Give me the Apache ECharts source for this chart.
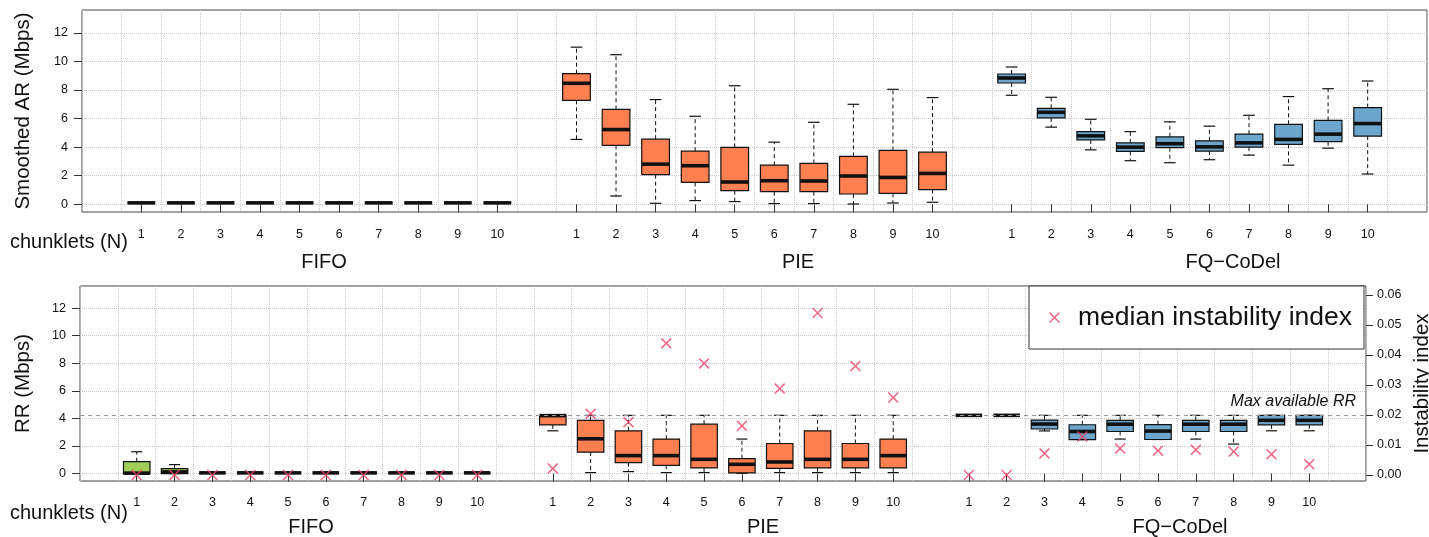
<!DOCTYPE html>
<html>
<head>
<meta charset="utf-8">
<script src="https://cdn.jsdelivr.net/npm/echarts@6.0.0/dist/echarts.min.js"></script>
<style>
  html, body { margin: 0; padding: 0; background: #fff; }
  #chart { width: 1429px; height: 537px; }
</style>
</head>
<body>
<div id="chart"></div>
<script>
const chunklets = ['1', '2', '3', '4', '5', '6', '7', '8', '9', '10']
const queues = ['FIFO', 'PIE', 'FQ\u2212CoDel']
const rateTicks = [0, 2, 4, 6, 8, 10, 12]
const instTicks = [0, 0.01, 0.02, 0.03, 0.04, 0.05, 0.06]
const maxRR = 4.22

// smoothed AR (Mbps), one [min, Q1, median, Q3, max] per chunklet count
const arFifo = [
  [0.1, 0.1, 0.1, 0.1, 0.1], [0.1, 0.1, 0.1, 0.1, 0.1], [0.1, 0.1, 0.1, 0.1, 0.1],
  [0.1, 0.1, 0.1, 0.1, 0.1], [0.1, 0.1, 0.1, 0.1, 0.1], [0.1, 0.1, 0.1, 0.1, 0.1],
  [0.1, 0.1, 0.1, 0.1, 0.1], [0.1, 0.1, 0.1, 0.1, 0.1], [0.1, 0.1, 0.1, 0.1, 0.1],
  [0.1, 0.1, 0.1, 0.1, 0.1]
]
const arPie = [
  [4.54, 7.28, 8.47, 9.14, 11.0],
  [0.58, 4.12, 5.23, 6.65, 10.47],
  [0.07, 2.07, 2.81, 4.56, 7.33],
  [0.26, 1.53, 2.70, 3.72, 6.16],
  [0.19, 0.95, 1.56, 3.98, 8.30],
  [0.05, 0.88, 1.65, 2.74, 4.35],
  [0.05, 0.88, 1.63, 2.86, 5.74],
  [0.02, 0.72, 1.98, 3.35, 7.00],
  [0.09, 0.77, 1.88, 3.77, 8.05],
  [0.14, 1.03, 2.16, 3.65, 7.47]
]
const arFq = [
  [7.63, 8.49, 8.84, 9.12, 9.61],
  [5.40, 6.05, 6.44, 6.72, 7.49],
  [3.81, 4.51, 4.79, 5.09, 5.95],
  [3.05, 3.70, 4.00, 4.30, 5.09],
  [2.91, 3.96, 4.24, 4.72, 5.77],
  [3.12, 3.72, 4.02, 4.44, 5.47],
  [3.44, 4.00, 4.30, 4.91, 6.23],
  [2.74, 4.19, 4.54, 5.60, 7.54],
  [3.93, 4.38, 4.91, 5.88, 8.09],
  [2.12, 4.77, 5.65, 6.77, 8.63]
]

// RR (Mbps)
const rrFifo = [
  [0, 0, 0.03, 0.86, 1.58],
  [0, 0, 0.12, 0.36, 0.65],
  [0.05, 0.05, 0.05, 0.05, 0.05], [0.05, 0.05, 0.05, 0.05, 0.05],
  [0.05, 0.05, 0.05, 0.05, 0.05], [0.05, 0.05, 0.05, 0.05, 0.05],
  [0.05, 0.05, 0.05, 0.05, 0.05], [0.05, 0.05, 0.05, 0.05, 0.05],
  [0.05, 0.05, 0.05, 0.05, 0.05], [0.05, 0.05, 0.05, 0.05, 0.05]
]
const rrPie = [
  [3.10, 3.53, 4.20, 4.22, 4.22],
  [0.07, 1.56, 2.52, 3.86, 4.22],
  [0.14, 0.79, 1.30, 3.10, 4.22],
  [0.07, 0.60, 1.30, 2.50, 4.22],
  [0.07, 0.41, 1.03, 3.58, 4.22],
  [0.02, 0.05, 0.67, 1.08, 2.50],
  [0.07, 0.38, 0.84, 2.18, 4.22],
  [0.07, 0.41, 1.03, 3.10, 4.22],
  [0.07, 0.41, 1.03, 2.18, 4.22],
  [0.07, 0.41, 1.30, 2.50, 4.22]
]
const rrFq = [
  [4.22, 4.22, 4.22, 4.22, 4.22],
  [4.22, 4.22, 4.22, 4.22, 4.22],
  [3.09, 3.23, 3.59, 3.88, 4.22],
  [2.46, 2.46, 3.05, 3.54, 4.22],
  [2.50, 3.05, 3.58, 3.86, 4.22],
  [2.47, 2.47, 3.08, 3.55, 4.22],
  [2.50, 3.05, 3.58, 3.86, 4.22],
  [2.14, 3.05, 3.58, 3.86, 4.22],
  [3.10, 3.53, 3.86, 4.22, 4.22],
  [3.10, 3.53, 3.86, 4.22, 4.22]
]

// median instability index
const instFifo = [0, 0, 0, 0, 0, 0, 0, 0, 0, 0]
const instPie = [0.0022, 0.0204, 0.0176, 0.0439, 0.0372, 0.0164, 0.0288, 0.0540, 0.0363, 0.0258]
const instFq = [0, 0, 0.0072, 0.0128, 0.0088, 0.0081, 0.0084, 0.0078, 0.0069, 0.0036]

const fills = ['#A2CD5A', '#FF7F50', '#6CA6CD']
const crossColor = '#EE4466'
const crossPath = 'path://M0,1L1,0L5,4L9,0L10,1L6,5L10,9L9,10L5,6L1,10L0,9L4,5Z'
const ink = '#111'
const font = '"Liberation Sans", Arial, Helvetica, sans-serif'

// one category slot per box, an empty slot before, between and after the groups
const slots = ['']
queues.forEach((q, qi) => {
  if (qi) slots.push('')
  chunklets.forEach(c => slots.push(c))
})
slots.push('')
const slotOf = (qi, ci) => 1 + qi * (chunklets.length + 1) + ci

function renderBox(params, api) {
  const s = api.value(0)
  const lo = api.coord([s, api.value(1)])
  const q1 = api.coord([s, api.value(2)])
  const md = api.coord([s, api.value(3)])
  const q3 = api.coord([s, api.value(4)])
  const hi = api.coord([s, api.value(5)])
  const w = api.size([1, 0])[0] * 0.7
  const cap = w * 0.42
  const cx = md[0]
  const dash = { stroke: ink, lineWidth: 1, lineDash: [4, 3] }
  const solid = { stroke: ink, lineWidth: 1.2 }
  return {
    type: 'group',
    children: [
      { type: 'line', shape: { x1: cx, y1: q3[1], x2: cx, y2: hi[1] }, style: dash },
      { type: 'line', shape: { x1: cx, y1: q1[1], x2: cx, y2: lo[1] }, style: dash },
      { type: 'line', shape: { x1: cx - cap / 2, y1: hi[1], x2: cx + cap / 2, y2: hi[1] }, style: solid },
      { type: 'line', shape: { x1: cx - cap / 2, y1: lo[1], x2: cx + cap / 2, y2: lo[1] }, style: solid },
      {
        type: 'rect',
        shape: { x: cx - w / 2, y: q3[1], width: w, height: q1[1] - q3[1] },
        style: { fill: api.visual('color'), stroke: ink, lineWidth: 1.2 }
      },
      { type: 'line', shape: { x1: cx - w / 2, y1: md[1], x2: cx + w / 2, y2: md[1] }, style: { stroke: ink, lineWidth: 3.6 } }
    ]
  }
}

function boxSeries(rows, qi, panel) {
  return {
    type: 'custom',
    name: queues[qi] + panel,
    xAxisIndex: panel,
    yAxisIndex: panel,
    itemStyle: { color: fills[qi] },
    encode: { x: 0, y: [1, 2, 3, 4, 5] },
    renderItem: renderBox,
    data: rows.map((r, ci) => [slotOf(qi, ci)].concat(r))
  }
}

function xAxisFor(gridIndex, margin) {
  return {
    type: 'category',
    gridIndex: gridIndex,
    data: slots,
    boundaryGap: true,
    axisLine: { show: false },
    axisTick: {
      show: true,
      alignWithLabel: true,
      length: 8,
      interval: (i, v) => v !== '',
      lineStyle: { color: '#333' }
    },
    axisLabel: { interval: 0, fontSize: 12.5, color: ink, margin: margin },
    splitLine: { show: true, interval: 0, lineStyle: { type: 'dotted', color: '#c8c8c8' } }
  }
}

function rateAxis(gridIndex, name, nameGap) {
  return {
    type: 'value',
    gridIndex: gridIndex,
    min: -0.54,
    max: 13.6,
    splitNumber: 7,
    name: name,
    nameLocation: 'middle',
    nameGap: nameGap,
    nameTextStyle: { fontSize: 20.5, color: ink },
    axisLine: { show: false },
    axisTick: { show: true, length: 8, customValues: rateTicks, lineStyle: { color: '#333' } },
    axisLabel: { customValues: rateTicks, fontSize: 12.5, color: ink, margin: 14 },
    splitLine: { show: true, lineStyle: { type: 'dotted', color: '#c8c8c8' } }
  }
}

const instData = []
;[instFifo, instPie, instFq].forEach((arr, qi) => {
  arr.forEach((v, ci) => instData.push([slotOf(qi, ci), v]))
})

const chart = echarts.init(document.getElementById('chart'))
chart.setOption({
  animation: false,
  textStyle: { fontFamily: font },
  grid: [
    { left: 82, top: 10, width: 1345, height: 202, outerBoundsMode: 'none', show: true, borderColor: '#444', borderWidth: 1 },
    { left: 80, top: 286, width: 1286, height: 195, outerBoundsMode: 'none', show: true, borderColor: '#444', borderWidth: 1 }
  ],
  xAxis: [xAxisFor(0, 16), xAxisFor(1, 15)],
  yAxis: [
    rateAxis(0, 'Smoothed AR (Mbps)', 48),
    rateAxis(1, 'RR (Mbps)', 46),
    {
      type: 'value',
      gridIndex: 1,
      position: 'right',
      min: -0.002,
      max: 0.063,
      splitNumber: 7,
      name: 'Instability index',
      nameLocation: 'middle',
      nameRotate: 90,
      nameGap: 42,
      nameTextStyle: { fontSize: 20.5, color: ink },
      axisLine: { show: false },
      axisTick: { show: true, length: 7, customValues: instTicks, lineStyle: { color: '#333' } },
      axisLabel: { customValues: instTicks, fontSize: 12.5, color: ink, margin: 11, formatter: v => v.toFixed(2) },
      splitLine: { show: false }
    }
  ],
  legend: {
    left: 1029,
    top: 286,
    orient: 'horizontal',
    selectedMode: false,
    backgroundColor: '#fff',
    borderColor: '#333',
    borderWidth: 1,
    borderRadius: 0,
    padding: [18, 12, 18, 20],
    itemWidth: 11,
    itemHeight: 11,
    textStyle: { fontSize: 26.5, color: ink, padding: [0, 0, 0, 13] },
    data: [{ name: 'median instability index', icon: crossPath, itemStyle: { color: crossColor } }]
  },
  graphic: [
    { type: 'text', x: 10, y: 242, style: { text: 'chunklets (N)', font: '20px ' + font, fill: ink, align: 'left', verticalAlign: 'middle' } },
    { type: 'text', x: 10, y: 513, style: { text: 'chunklets (N)', font: '20px ' + font, fill: ink, align: 'left', verticalAlign: 'middle' } },
    { type: 'text', x: 324, y: 262, style: { text: queues[0], font: '20px ' + font, fill: ink, align: 'center', verticalAlign: 'middle' } },
    { type: 'text', x: 798, y: 262, style: { text: queues[1], font: '20px ' + font, fill: ink, align: 'center', verticalAlign: 'middle' } },
    { type: 'text', x: 1233, y: 262, style: { text: queues[2], font: '20px ' + font, fill: ink, align: 'center', verticalAlign: 'middle' } },
    { type: 'text', x: 311, y: 527, style: { text: queues[0], font: '20px ' + font, fill: ink, align: 'center', verticalAlign: 'middle' } },
    { type: 'text', x: 763, y: 527, style: { text: queues[1], font: '20px ' + font, fill: ink, align: 'center', verticalAlign: 'middle' } },
    { type: 'text', x: 1180, y: 527, style: { text: queues[2], font: '20px ' + font, fill: ink, align: 'center', verticalAlign: 'middle' } }
  ],
  series: [
    boxSeries(arFifo, 0, 0),
    boxSeries(arPie, 1, 0),
    boxSeries(arFq, 2, 0),
    boxSeries(rrFifo, 0, 1),
    boxSeries(rrPie, 1, 1),
    boxSeries(rrFq, 2, 1),
    {
      type: 'line',
      name: 'max RR',
      xAxisIndex: 1,
      yAxisIndex: 1,
      data: [],
      markLine: {
        silent: true,
        symbol: ['none', 'none'],
        lineStyle: { type: [4, 4], color: '#9a9a9a', width: 1 },
        label: {
          show: true,
          position: 'insideEndTop',
          formatter: 'Max available RR',
          fontStyle: 'italic',
          fontSize: 16,
          color: ink,
          distance: [10, 6]
        },
        data: [{ yAxis: maxRR }]
      }
    },
    {
      type: 'scatter',
      name: 'median instability index',
      xAxisIndex: 1,
      yAxisIndex: 2,
      symbol: crossPath,
      symbolSize: 11,
      itemStyle: { color: crossColor },
      data: instData,
      z: 5
    }
  ]
})
</script>
</body>
</html>
